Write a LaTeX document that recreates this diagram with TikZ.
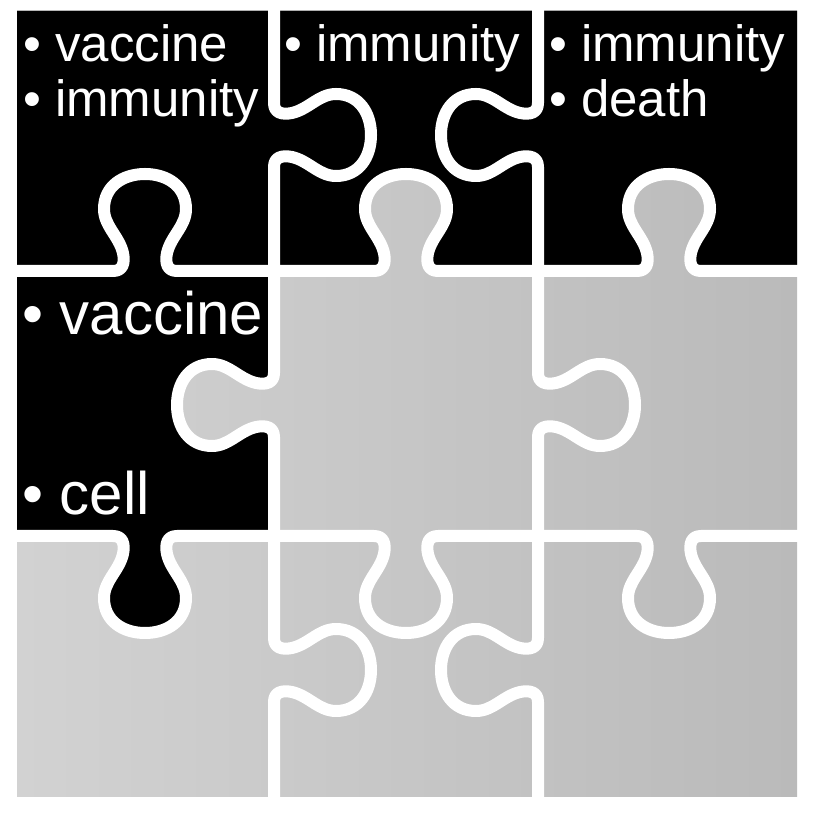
\documentclass[tikz,border=0pt]{standalone}
\usepackage{fontspec}
\setmainfont{Liberation Sans}
\usetikzlibrary{positioning}
\definecolor{metalLight}{RGB}{210,210,210}
\definecolor{metalDark}{RGB}{186,186,186}

\begin{document}
\begin{tikzpicture}[x=1pt,y=1pt,
  cut/.style={draw=white,line width=12pt,line join=round},
  metal/.style={left color=metalLight,right color=metalDark},
  lbl/.style={anchor=base west,inner sep=0pt,text=white,font=\fontsize{51}{60}\selectfont},
  biglbl/.style={lbl,font=\fontsize{60}{72}\selectfont},
  knob/.style={insert path={.. controls (-22,0) and (-20,8) .. (-22,18)
    .. controls (-26,35) and (-41,45) .. (-41,62)
    .. controls (-41,85) and (-22,97) .. (0,97)
    .. controls (22,97) and (41,85) .. (41,62)
    .. controls (41,45) and (26,35) .. (22,18)
    .. controls (20,8) and (22,0) .. (32,0)}}]
\useasboundingbox (0,0) rectangle (816,816);
% board and the dark pieces
\shade[metal] (17,19) rectangle (797,805);
\fill[black] (17,805) -- (797,805) -- (797,545) -- (274,545) -- (274,280) -- (17,280) -- cycle;
\fill[black,shift={(145,280)},rotate=180] (-32,0) [knob] -- (32,-4) -- (-32,-4) -- cycle;
% metal tabs reaching into dark pieces
\begin{scope}
\clip[shift={(406,545)}] (-32,0) [knob] -- (32,-4) -- (-32,-4) -- cycle;
\shade[metal] (17,19) rectangle (797,805);
\end{scope}
\begin{scope}
\clip[shift={(669,545)}] (-32,0) [knob] -- (32,-4) -- (-32,-4) -- cycle;
\shade[metal] (17,19) rectangle (797,805);
\end{scope}
\begin{scope}
\clip[shift={(274,411)},rotate=90] (-32,0) [knob] -- (32,-4) -- (-32,-4) -- cycle;
\shade[metal] (17,19) rectangle (797,805);
\end{scope}
% cuts
\draw[cut,shift={(145,545)}] (-135,0) -- (-32,0) [knob] -- (135,0);
\draw[cut,shift={(406,545)}] (-135,0) -- (-32,0) [knob] -- (135,0);
\draw[cut,shift={(669,545)}] (-135,0) -- (-32,0) [knob] -- (135,0);
\draw[cut,shift={(145,280)},rotate=180] (-135,0) -- (-32,0) [knob] -- (135,0);
\draw[cut,shift={(406,280)},rotate=180] (-135,0) -- (-32,0) [knob] -- (135,0);
\draw[cut,shift={(669,280)},rotate=180] (-135,0) -- (-32,0) [knob] -- (135,0);
\draw[cut,shift={(274,681)},rotate=-90] (-135,0) -- (-32,0) [knob] -- (135,0);
\draw[cut,shift={(274,411)},rotate=90] (-135,0) -- (-32,0) [knob] -- (135,0);
\draw[cut,shift={(274,146)},rotate=-90] (-135,0) -- (-32,0) [knob] -- (135,0);
\draw[cut,shift={(538,681)},rotate=90] (-135,0) -- (-32,0) [knob] -- (135,0);
\draw[cut,shift={(538,411)},rotate=-90] (-135,0) -- (-32,0) [knob] -- (135,0);
\draw[cut,shift={(538,146)},rotate=90] (-135,0) -- (-32,0) [knob] -- (135,0);
% labels
\node[lbl] (tlVaccine) at (23,754) {• vaccine};
\node[lbl] (tlImmunity) at (23,699) {• immunity};
\node[lbl] (tmImmunity) at (284,754) {• immunity};
\node[lbl] (trImmunity) at (549,754) {• immunity};
\node[lbl] (trDeath) at (549,699) {• death};
\node[biglbl] (mlVaccine) at (22,481) {• vaccine};
\node[biglbl] (mlCell) at (22,301) {• cell};
\end{tikzpicture}
\end{document}
